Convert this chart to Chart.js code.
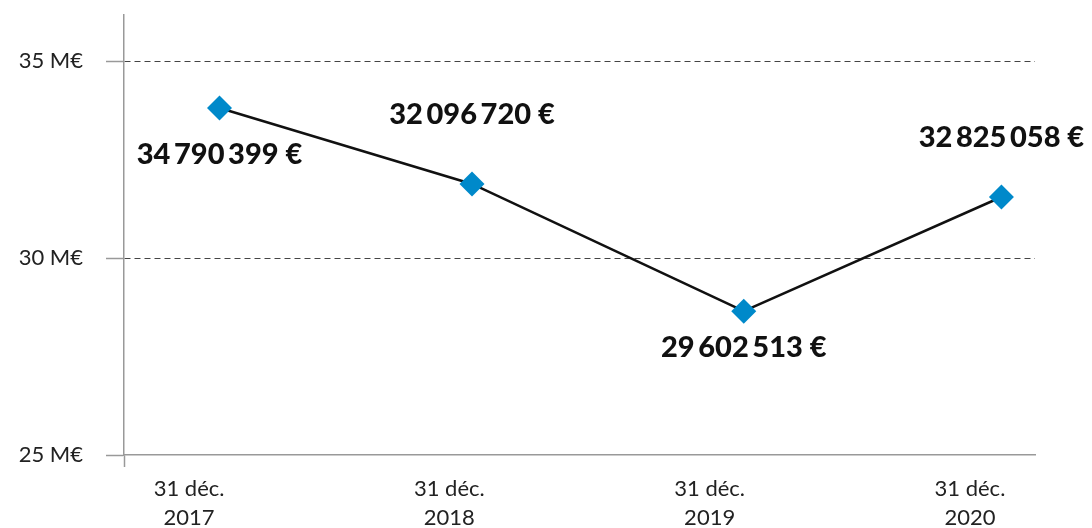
<!DOCTYPE html>
<html>
<head>
<meta charset="utf-8">
<script src="https://cdn.jsdelivr.net/npm/chart.js@4"></script>
<style>
  html, body { margin: 0; padding: 0; background: #fff; }
  #wrap { width: 1092px; height: 528px; }
</style>
</head>
<body>
<div id="wrap"><canvas id="chart"></canvas></div>
<script>
// tick labels on the x axis (one per year)
const years = [2017, 2018, 2019, 2020];
const categories = [['31 déc.', '2017'], ['31 déc.', '2018'], ['31 déc.', '2019'], ['31 déc.', '2020']];
// where the markers sit along the year axis, as drawn in the picture
const pointYears = [2017.117, 2018.087, 2019.131, 2020.121];
// plotted values in M€
const values = [33.81, 31.88, 28.65, 31.55];
// value labels written next to each marker
const valueLabels = ['34\u2009790\u2009399 €', '32\u2009096\u2009720 €', '29\u2009602\u2009513 €', '32\u2009825\u2009058 €'];
const yTicks = [25, 30, 35];

// vertical offset of each value label from its marker (px)
const labelOffsets = [47, -69, 36.5, -59];

const valueLabelPlugin = {
  id: 'valueLabels',
  afterDatasetsDraw(chart) {
    const ctx = chart.ctx;
    const meta = chart.getDatasetMeta(0);
    ctx.save();
    ctx.font = '900 29px Lato';
    ctx.fillStyle = '#111';
    ctx.textAlign = 'center';
    ctx.textBaseline = 'middle';
    meta.data.forEach((pt, i) => {
      ctx.fillText(valueLabels[i], pt.x, pt.y + labelOffsets[i]);
    });
    ctx.restore();
  }
};

const ctx = document.getElementById('chart');
new Chart(ctx, {
  type: 'line',
  data: {
    datasets: [{
      data: pointYears.map((x, i) => ({ x: x, y: values[i] })),
      borderColor: '#111',
      borderWidth: 2.5,
      tension: 0,
      pointStyle: 'rectRot',
      pointRadius: 12.5,
      pointHoverRadius: 12.5,
      pointBackgroundColor: '#0089CA',
      pointBorderWidth: 0
    }]
  },
  options: {
    responsive: true,
    maintainAspectRatio: false,
    animation: false,
    events: [],
    layout: { padding: { top: 15, right: 57, left: 0, bottom: 0 } },
    plugins: {
      legend: { display: false },
      tooltip: { enabled: false }
    },
    scales: {
      x: {
        type: 'linear',
        min: 2016.75,
        max: 2020.25,
        afterBuildTicks: (scale) => {
          scale.ticks = [{ value: 2016.75 }].concat(years.map(v => ({ value: v })));
        },
        afterFit: (scale) => {
          scale.height = 73;
          scale.paddingLeft = 0;
          scale.paddingRight = 0;
        },
        grid: {
          drawOnChartArea: false,
          drawTicks: true,
          tickLength: 12,
          tickWidth: 1.5,
          tickColor: (c) => (c.tick && c.tick.value === 2016.75) ? '#999' : 'rgba(0,0,0,0)'
        },
        border: { display: true, color: '#999', width: 1.5 },
        ticks: {
          autoSkip: false,
          maxRotation: 0,
          padding: 8,
          color: '#222',
          font: { family: 'Lato', size: 22, lineHeight: 1.3 },
          callback: (v) => {
            const i = years.indexOf(v);
            return i >= 0 ? categories[i] : '';
          }
        }
      },
      y: {
        min: 25,
        max: 36.17,
        afterBuildTicks: (scale) => {
          scale.ticks = yTicks.map(v => ({ value: v }));
        },
        afterFit: (scale) => {
          scale.width = 124;
          scale.paddingTop = 0;
          scale.paddingBottom = 0;
        },
        grid: {
          color: (c) => (c.tick && c.tick.value === 25) ? 'rgba(0,0,0,0)' : '#444',
          lineWidth: 1,
          tickLength: 18,
          tickColor: '#999',
          tickWidth: 1.5
        },
        border: { display: true, color: '#999', width: 1.5, dash: [6, 4] },
        ticks: {
          padding: 23,
          color: '#222',
          font: { family: 'Lato', size: 22 },
          callback: (v) => v + ' M€'
        }
      }
    }
  },
  plugins: [valueLabelPlugin]
});
</script>
</body>
</html>
